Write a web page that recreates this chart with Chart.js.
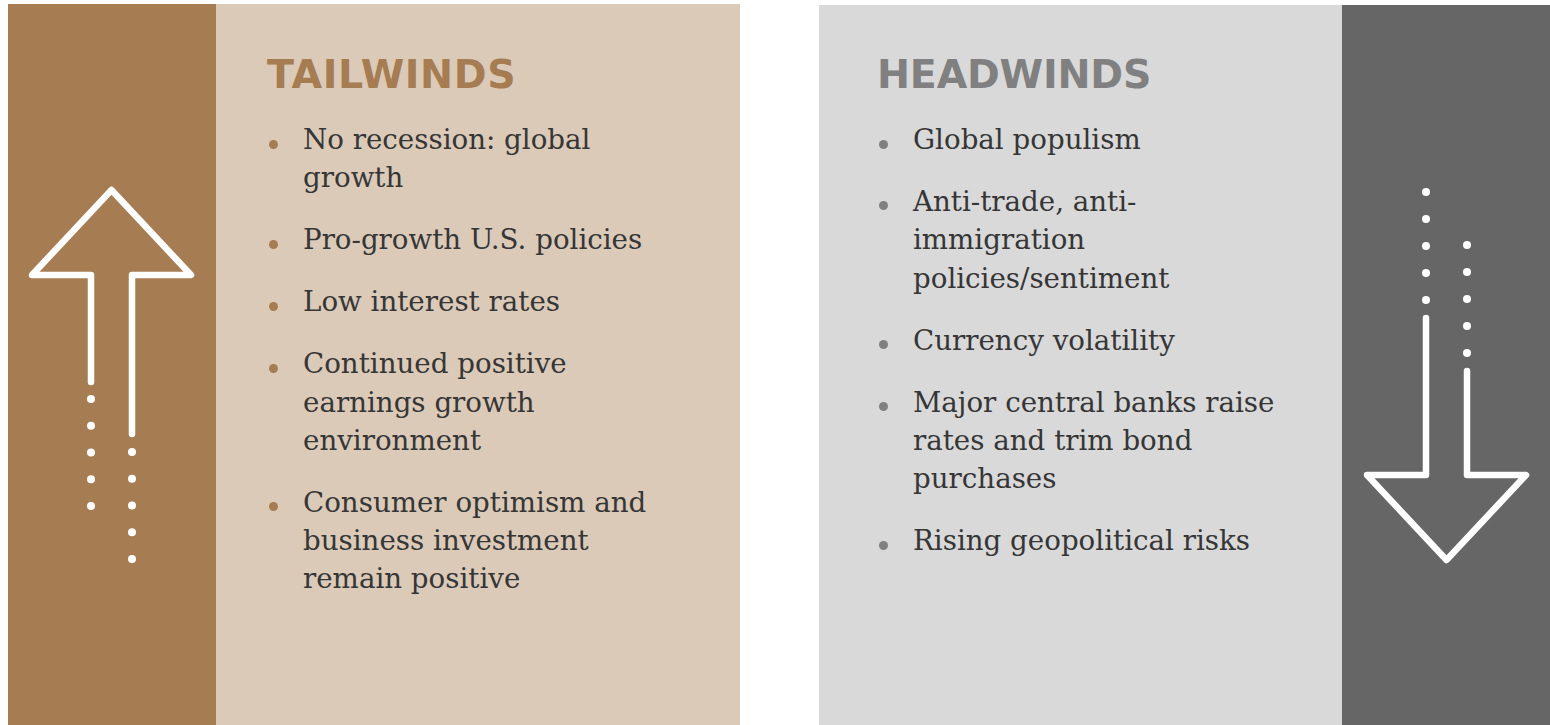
<!DOCTYPE html>
<html>
<head>
<meta charset="utf-8">
<title>Tailwinds / Headwinds</title>
<script src="https://cdn.jsdelivr.net/npm/chart.js@4.4.1/dist/chart.umd.min.js"></script>
<style>
body { margin: 0; background: #fff; }
#wrap { position: relative; width: 1550px; height: 725px; overflow: hidden; }
.panel { position: absolute; }
#tailPanel { left: 8px; top: 4px; width: 732px; height: 721px; background: #dbcab8; }
#tailStrip { left: 8px; top: 4px; width: 208px; height: 721px; background: #a67c52; }
#headPanel { left: 819px; top: 5px; width: 731px; height: 720px; background: #d9d9d9; }
#headStrip { left: 1342px; top: 5px; width: 208px; height: 720px; background: #666666; }
.title { position: absolute; top: 54.5px; margin: 0; font-family: 'DejaVu Sans', Verdana, sans-serif; font-weight: bold; font-size: 39.5px; line-height: 39.5px; }
#tailTitle { left: 267px; color: #a67c52; letter-spacing: 0.6px; }
#headTitle { left: 877px; color: #808080; letter-spacing: -0.2px; }
ul.lista { position: absolute; top: 121px; margin: 0; padding: 0; list-style: none; }
#tailList { left: 303px; }
#headList { left: 913px; }
ul.lista li { position: relative; white-space: pre-line; font-family: 'DejaVu Serif', Georgia, serif; font-size: 27.7px; line-height: 38.3px; color: #363636; margin-bottom: 23.7px; }
ul.lista li::before { content: ''; position: absolute; left: -34.5px; top: 18.5px; width: 9px; height: 9px; border-radius: 50%; }
#tailList li::before { background: #a67c52; }
#headList li::before { background: #808080; }
#arrowChart { position: absolute; left: 0; top: 0; }
</style>
</head>
<body>
<div id="wrap">
	<div class="panel" id="tailPanel"></div>
	<div class="panel" id="tailStrip"></div>
	<div class="panel" id="headPanel"></div>
	<div class="panel" id="headStrip"></div>
	<h2 class="title" id="tailTitle">TAILWINDS</h2>
	<h2 class="title" id="headTitle">HEADWINDS</h2>
	<ul class="lista" id="tailList"></ul>
	<ul class="lista" id="headList"></ul>
	<canvas id="arrowChart" width="1550" height="725"></canvas>
</div>
<script>
// Textos de cada columna (los saltos de linea siguen el original)
var tailwinds = [
	'No recession: global\ngrowth',
	'Pro-growth U.S. policies',
	'Low interest rates',
	'Continued positive\nearnings growth\nenvironment',
	'Consumer optimism and\nbusiness investment\nremain positive'
];
var headwinds = [
	'Global populism',
	'Anti-trade, anti-\nimmigration\npolicies/sentiment',
	'Currency volatility',
	'Major central banks raise\nrates and trim bond\npurchases',
	'Rising geopolitical risks'
];

function llenarLista(id, items) {
	var ul = document.getElementById(id);
	items.forEach(function(texto) {
		var li = document.createElement('li');
		li.textContent = texto;
		ul.appendChild(li);
	});
}

llenarLista('tailList', tailwinds);
llenarLista('headList', headwinds);

// Contorno de una flecha: centro, punta, altura de las alas y extremos del tallo
function construirFlecha(cx, puntaY, alaY, mediaAla, medioTallo, finIzq, finDer) {
	return [
		{ x: cx - medioTallo, y: finIzq },
		{ x: cx - medioTallo, y: alaY },
		{ x: cx - mediaAla, y: alaY },
		{ x: cx, y: puntaY },
		{ x: cx + mediaAla, y: alaY },
		{ x: cx + medioTallo, y: alaY },
		{ x: cx + medioTallo, y: finDer }
	];
}

// Columna de puntos bajo / sobre el tallo
function puntos(x, y0, paso, n) {
	var lista = [];
	for (var i = 0; i < n; i++) {
		lista.push({ x: x, y: y0 + i * paso });
	}
	return lista;
}

var flechaArriba = construirFlecha(111.5, 190, 275, 79.5, 20.5, 382, 434);
var flechaAbajo = construirFlecha(1446.5, 560, 475, 79.5, 20.5, 318, 371);

var puntosArriba = puntos(91, 399, 26.75, 5).concat(puntos(132, 452, 26.75, 5));
var puntosAbajo = puntos(1426, 192, 27, 5).concat(puntos(1467, 245, 27, 5));

function datasetLinea(data) {
	return {
		data: data,
		showLine: true,
		borderColor: '#ffffff',
		borderWidth: 6.5,
		borderCapStyle: 'round',
		borderJoinStyle: 'round',
		pointRadius: 0,
		tension: 0,
		fill: false
	};
}

function datasetPuntos(data) {
	return {
		data: data,
		showLine: false,
		pointRadius: 4,
		pointBackgroundColor: '#ffffff',
		pointBorderWidth: 0
	};
}

var ctx = document.getElementById('arrowChart').getContext('2d');
new Chart(ctx, {
	type: 'scatter',
	data: {
		datasets: [
			datasetLinea(flechaArriba),
			datasetLinea(flechaAbajo),
			datasetPuntos(puntosArriba),
			datasetPuntos(puntosAbajo)
		]
	},
	options: {
		responsive: false,
		animation: false,
		layout: { padding: 0, autoPadding: false },
		plugins: {
			legend: { display: false },
			tooltip: { enabled: false }
		},
		scales: {
			x: { type: 'linear', min: 0, max: 1550, display: false },
			y: { type: 'linear', min: 0, max: 725, reverse: true, display: false }
		}
	}
});
</script>
</body>
</html>
